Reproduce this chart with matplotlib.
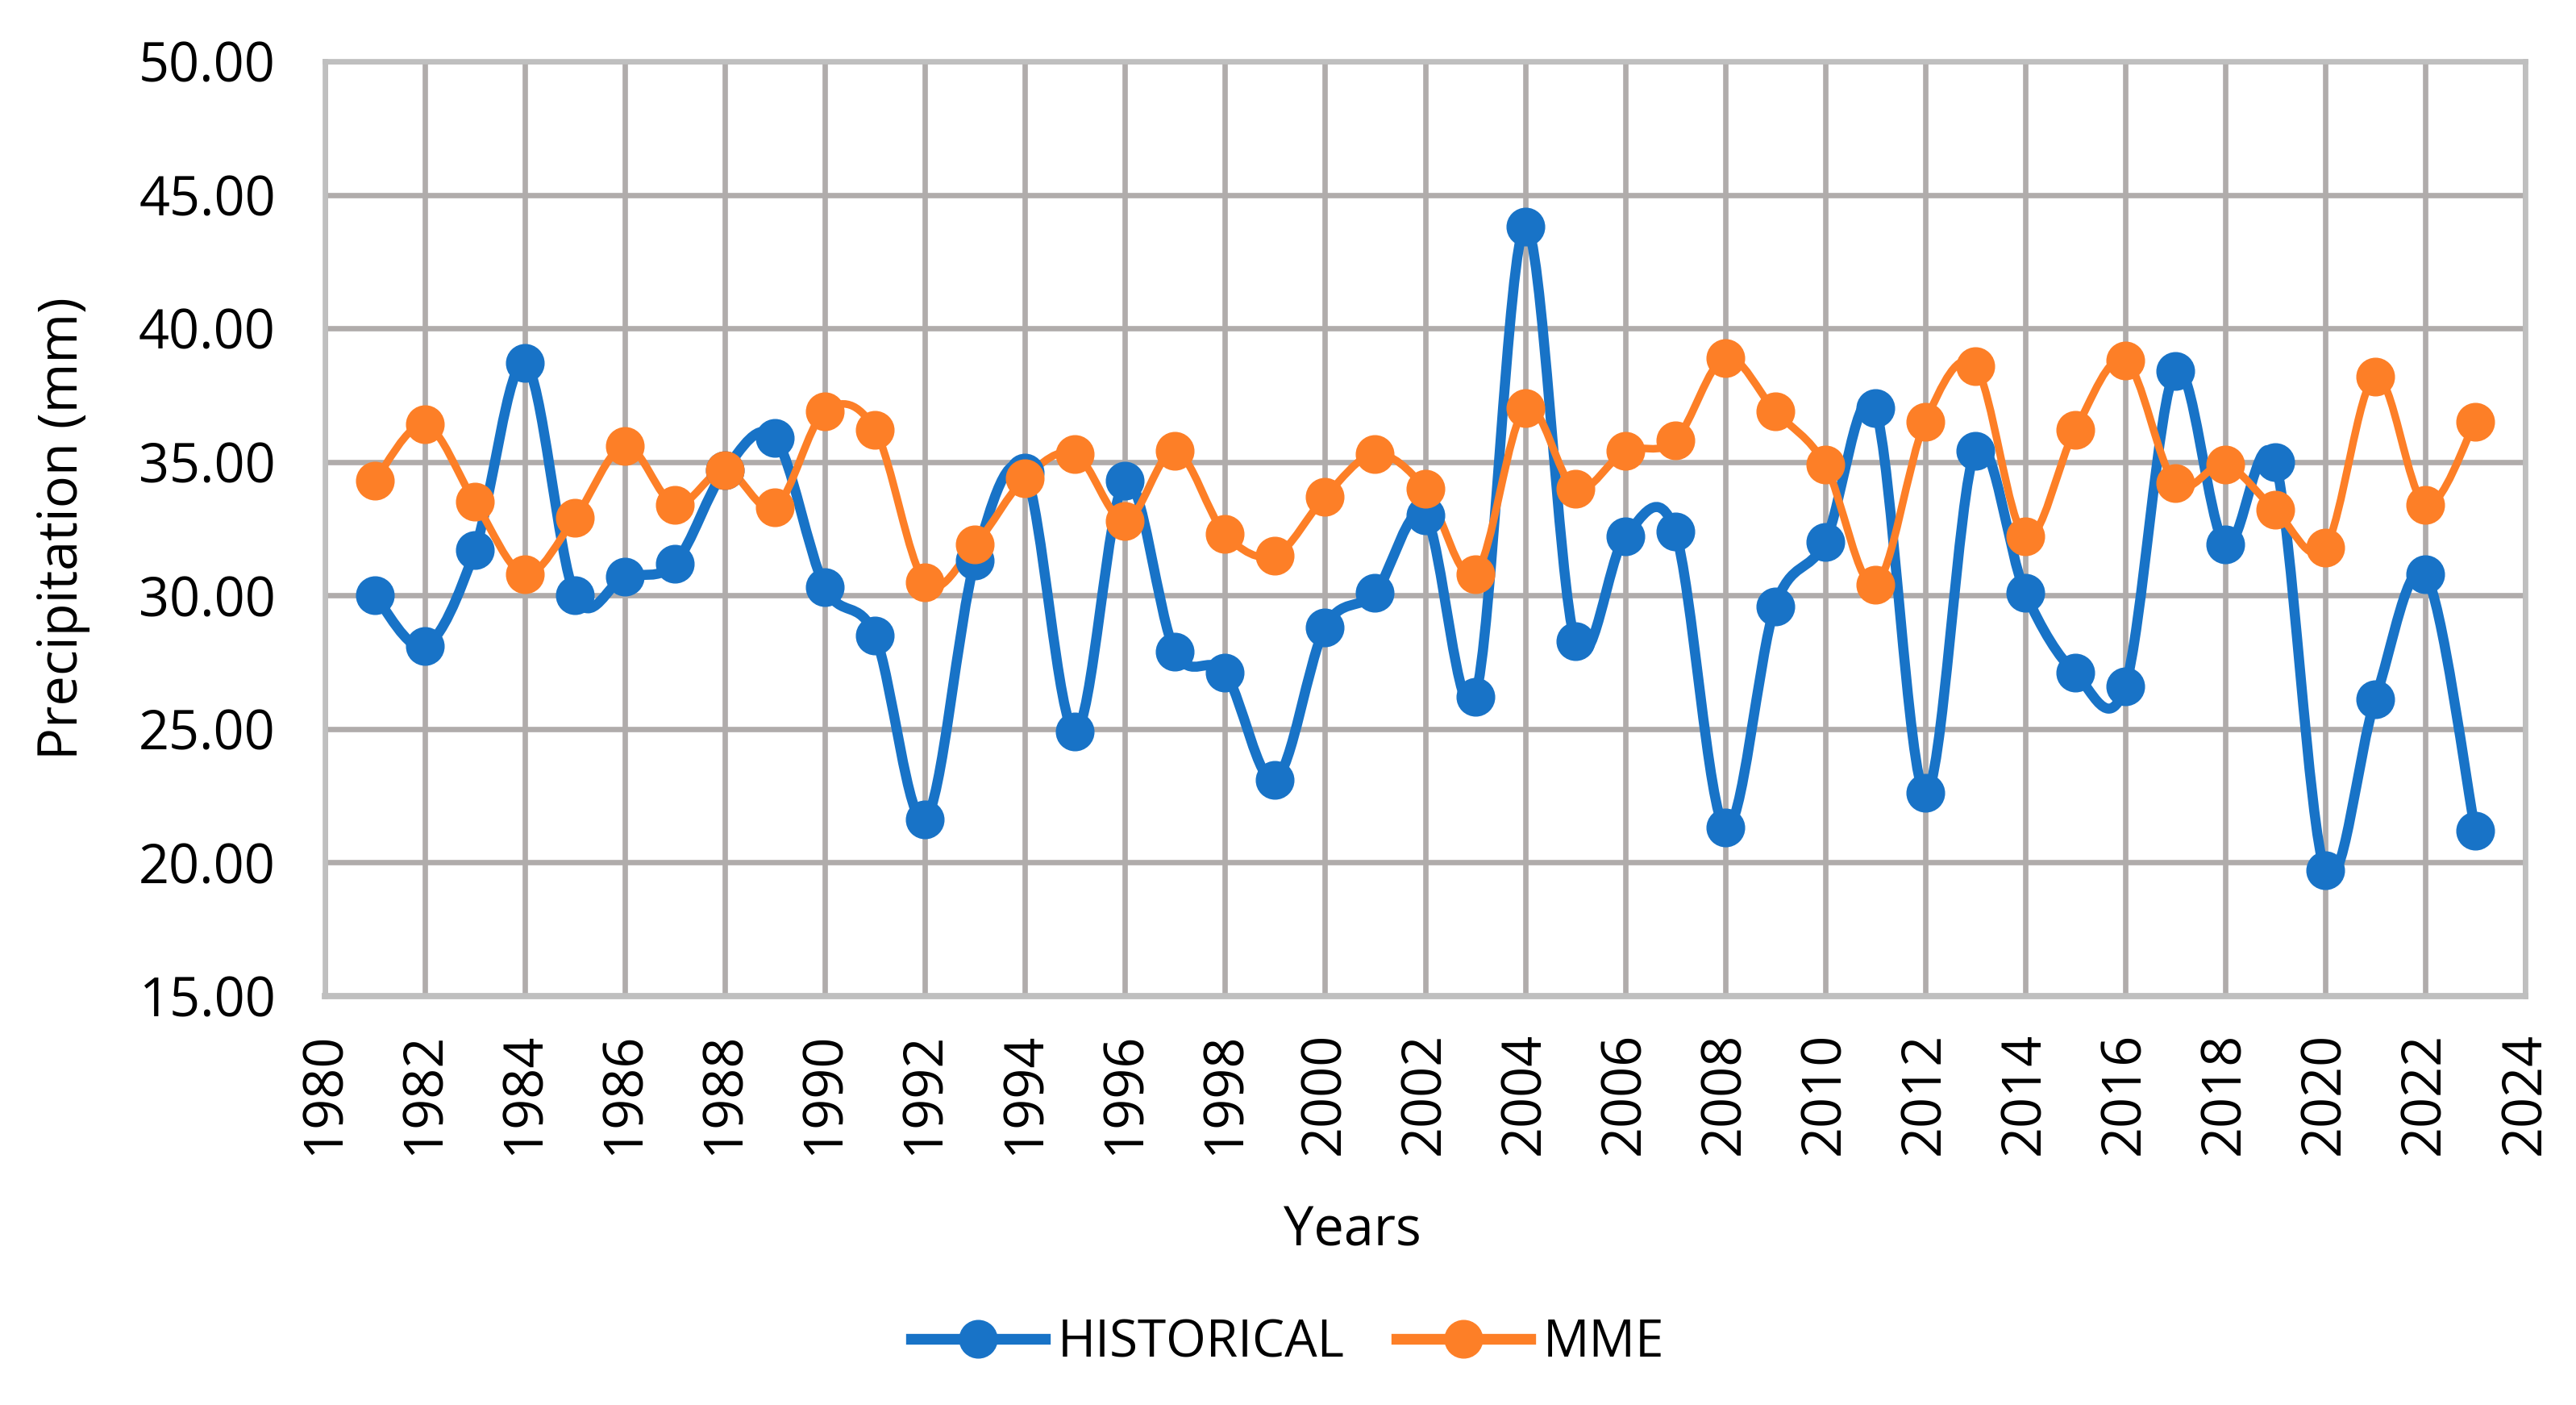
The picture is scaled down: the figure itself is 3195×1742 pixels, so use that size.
import matplotlib
matplotlib.use("Agg")
import matplotlib.pyplot as plt
from matplotlib.path import Path
from matplotlib.patches import PathPatch
from matplotlib.lines import Line2D
from matplotlib.ticker import MultipleLocator, FormatStrFormatter

years = list(range(1981, 2024))
historical = [30.0, 28.1, 31.7, 38.7, 30.0, 30.7, 31.2, 34.7, 35.9, 30.3,
              28.5, 21.6, 31.3, 34.6, 24.9, 34.3, 27.9, 27.1, 23.1, 28.8,
              30.1, 33.0, 26.2, 43.8, 28.3, 32.2, 32.4, 21.3, 29.6, 32.0,
              37.0, 22.6, 35.4, 30.1, 27.1, 26.6, 38.4, 31.9, 35.0, 19.7,
              26.1, 30.8, 21.2]
mme = [34.3, 36.4, 33.5, 30.8, 32.9, 35.6, 33.4, 34.7, 33.3, 36.9,
       36.2, 30.5, 31.9, 34.4, 35.3, 32.8, 35.4, 32.3, 31.5, 33.7,
       35.3, 34.0, 30.8, 37.0, 34.0, 35.4, 35.8, 38.9, 36.9, 34.9,
       30.4, 36.5, 38.6, 32.2, 36.2, 38.8, 34.2, 34.9, 33.2, 31.8,
       38.2, 33.4, 36.5]
series_names = ["HISTORICAL", "MME"]
colors = ["#1873C7", "#FD7F27"]

plt.rcParams['font.family'] = ['Open Sans', 'DejaVu Sans']
FS = 24

W, H = 3195, 1742
fig = plt.figure(figsize=(W/200, H/200), dpi=200)
left, right, top, bottom = 403, 3132, 76, 1235
ax = fig.add_axes([left/W, 1 - bottom/H, (right-left)/W, (bottom-top)/H])


def smooth_path(xs, ys):
    verts = [(xs[0], ys[0])]
    codes = [Path.MOVETO]
    n = len(xs)
    for i in range(n - 1):
        x0, y0 = (xs[i - 1], ys[i - 1]) if i > 0 else (xs[i], ys[i])
        x1, y1 = xs[i], ys[i]
        x2, y2 = xs[i + 1], ys[i + 1]
        x3, y3 = (xs[i + 2], ys[i + 2]) if i + 2 < n else (x2, y2)
        c1 = (x1 + (x2 - x0) / 6.0, y1 + (y2 - y0) / 6.0)
        c2 = (x2 - (x3 - x1) / 6.0, y2 - (y3 - y1) / 6.0)
        verts += [c1, c2, (x2, y2)]
        codes += [Path.CURVE4] * 3
    return Path(verts, codes)


widths = [4.5, 3.4]
MS = 16.8
for name, vals, col, lw in zip(series_names, [historical, mme], colors, widths):
    patch = PathPatch(smooth_path(years, vals), facecolor='none', edgecolor=col,
                      lw=lw, capstyle='round', joinstyle='round', zorder=3)
    ax.add_patch(patch)
    ax.plot(years, vals, linestyle='none', marker='o', markersize=MS,
            markeredgewidth=0.5, color=col, zorder=4)

ax.set_xlim(1980, 2024)
ax.set_ylim(15, 50)
ax.xaxis.set_major_locator(MultipleLocator(2))
ax.yaxis.set_major_locator(MultipleLocator(5))
ax.yaxis.set_major_formatter(FormatStrFormatter('%.2f'))
ax.grid(True, color='#B0ACAB', lw=2.4, zorder=0)
ax.set_axisbelow(True)
for s in ax.spines.values():
    s.set_color('#BFBFBF')
    s.set_linewidth(2.4)
ax.spines['bottom'].set_linewidth(2.8)
ax.tick_params(axis='both', length=0, labelsize=FS, colors='black')
ax.tick_params(axis='x', labelrotation=90, pad=16)
ax.tick_params(axis='y', pad=22)
ax.set_ylabel("Precipitation (mm)", fontsize=FS)
ax.yaxis.set_label_coords((112 - left) / (right - left), 0.5)
fig.text(1677 / W, 1 - 1527 / H, "Years", fontsize=FS, ha='center', va='center')

handles = [Line2D([0], [0], color=c, lw=4.8, marker='o', markersize=MS,
                  markeredgewidth=0.5)
           for c in colors]
fig.legend(handles, series_names, loc='center', bbox_to_anchor=(1597 / W, 1 - 1665 / H),
           ncol=2, frameon=False, fontsize=23, handlelength=2.6,
           handletextpad=0.25, columnspacing=1.0)

fig.savefig("out.png", dpi=200)
